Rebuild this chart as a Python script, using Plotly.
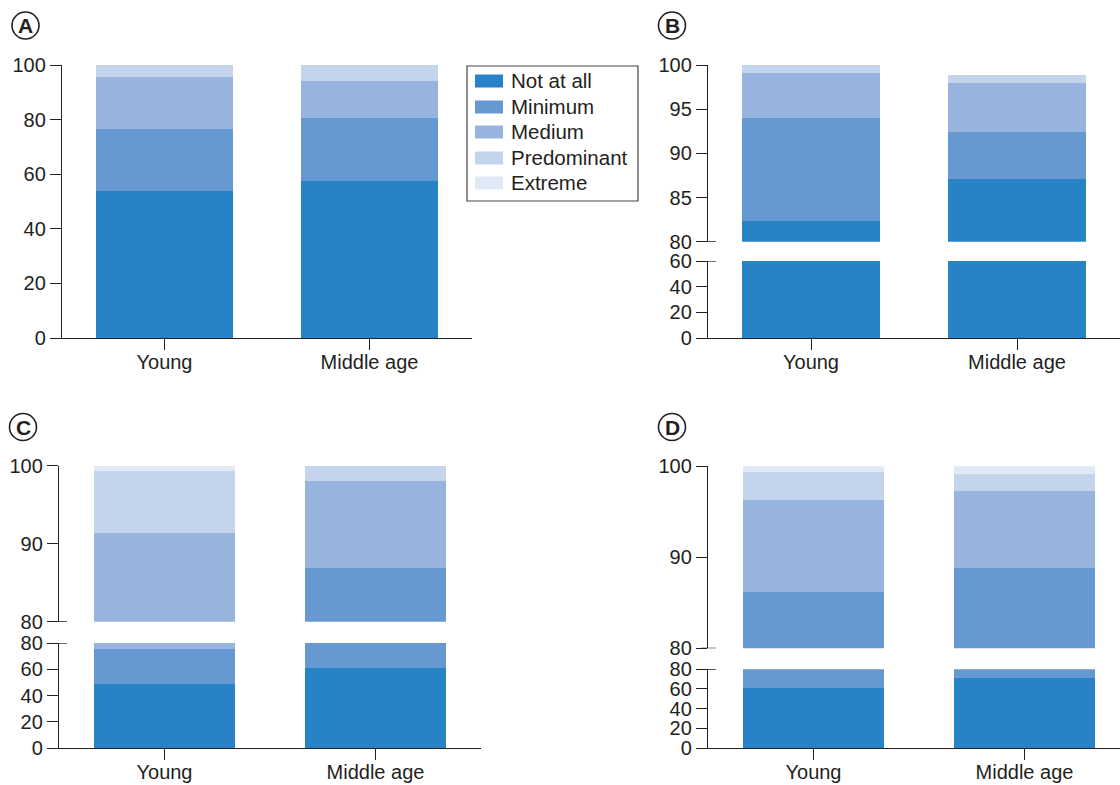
import plotly.graph_objects as go

# ---------------- data ----------------
categories = ["Young", "Middle age"]
series = ["Not at all", "Minimum", "Medium", "Predominant", "Extreme"]
colors = ["#2882C6", "#6699D1", "#96B4DD", "#C5D4ED", "#E1E8F6"]

# values per group, order = series
A_young = [54.0, 22.5, 19.1, 4.4, 0.0]
A_middle = [57.5, 23.1, 13.5, 5.9, 0.0]
B_young = [82.3, 11.7, 5.1, 0.9, 0.0]
B_middle = [87.1, 5.3, 5.6, 0.9, 0.0]
C_young = [49.0, 26.4, 16.0, 7.9, 0.7]
C_middle = [61.0, 25.9, 11.1, 2.0, 0.0]
D_young = [61.0, 25.2, 10.1, 3.1, 0.6]
D_middle = [70.7, 18.1, 8.5, 1.9, 0.8]

panel_letters = ["A", "B", "C", "D"]
A_ticks = [0, 20, 40, 60, 80, 100]
B_low_ticks = [0, 20, 40, 60]
B_up_ticks = [80, 85, 90, 95, 100]
C_low_ticks = [0, 20, 40, 60, 80]
C_up_ticks = [80, 90, 100]
D_low_ticks = [0, 20, 40, 60, 80]
D_up_ticks = [80, 90, 100]

# ---------------- layout helpers ----------------
W, H = 1120, 785
FONT = "Liberation Sans, Arial, Helvetica, sans-serif"
INK = "#231f20"


def px_x(p):
    return p / W


def px_y(p):
    return 1 - p / H


fig = go.Figure()

# (xaxis id, list of yaxis ids, young values, middle values)
panels = [
    ("x", ["y"], A_young, A_middle),
    ("x2", ["y2", "y3"], B_young, B_middle),
    ("x3", ["y4", "y5"], C_young, C_middle),
    ("x4", ["y6", "y7"], D_young, D_middle),
]

for xid, yids, yv, mv in panels:
    for yid in yids:
        for i, name in enumerate(series):
            fig.add_trace(go.Bar(
                x=categories, y=[yv[i], mv[i]], name=name,
                marker=dict(color=colors[i], line=dict(width=0)),
                xaxis=xid, yaxis=yid, showlegend=False,
            ))

axis_common = dict(
    showline=True, linecolor=INK, linewidth=1.3,
    ticks="outside", ticklen=11, tickwidth=1.3, tickcolor=INK,
    showgrid=False, zeroline=False, fixedrange=True, automargin=False,
    tickfont=dict(family=FONT, size=20, color=INK),
)

# x axes: (domain px start, px end, range end, anchor)
xdefs = {
    "xaxis": (62, 472, 1.5, "y"),
    "xaxis2": (708, 1120, 1.5, "y2"),
    "xaxis3": (59, 481, 1.5, "y4"),
    "xaxis4": (708, 1120, 1.4526, "y6"),
}
layout = {}
for k, (a, b, r, anc) in xdefs.items():
    layout[k] = dict(axis_common, domain=[px_x(a), px_x(b)],
                     range=[-0.5, r], anchor=anc, type="category",
                     ticklabelstandoff=-5)

# y axes: (top px, bottom px, range, ticks, anchor)
ydefs = {
    "yaxis": (65, 338, [0, 100], A_ticks, "x"),
    "yaxis2": (261, 338, [0, 60], B_low_ticks, "x2"),
    "yaxis3": (65, 241.7, [80, 100], B_up_ticks, "x2"),
    "yaxis4": (643, 748, [0, 80], C_low_ticks, "x3"),
    "yaxis5": (465.7, 621.7, [80, 100], C_up_ticks, "x3"),
    "yaxis6": (669.3, 748, [0, 80], D_low_ticks, "x4"),
    "yaxis7": (466.3, 648.3, [80, 100], D_up_ticks, "x4"),
}
for k, (t, b, rng, tv, anc) in ydefs.items():
    layout[k] = dict(axis_common, domain=[px_y(b), px_y(t)], range=rng,
                     tickvals=tv, anchor=anc)

shapes = []
annotations = []

# broken-axis marks (short horizontal strokes across the axis)
breaks = [(708, "y3", 80), (708, "y2", 60), (59, "y5", 80), (59, "y4", 80),
          (708, "y7", 80), (708, "y6", 80)]
for xp, yref, yv in breaks:
    shapes.append(dict(type="line", xref="paper", yref=yref,
                       x0=px_x(xp - 7), x1=px_x(xp + 8), y0=yv, y1=yv,
                       line=dict(color=INK, width=1.3)))

# circled panel letters
circles = [(25.5, 25.5), (672, 25.5), (23, 427), (672, 427)]
for (cx, cy), letter in zip(circles, panel_letters):
    r = 13.5
    shapes.append(dict(type="circle", xref="paper", yref="paper",
                       x0=px_x(cx - r), x1=px_x(cx + r),
                       y0=px_y(cy + r), y1=px_y(cy - r),
                       line=dict(color=INK, width=1.6)))
    annotations.append(dict(text="<b>%s</b>" % letter, xref="paper", yref="paper",
                            x=px_x(cx), y=px_y(cy + 0.5), showarrow=False,
                            xanchor="center", yanchor="middle",
                            font=dict(family=FONT, size=21, color=INK)))

# legend box (drawn to match the reference's wide swatches)
LEG_L, LEG_R, LEG_T, LEG_B = 467, 638, 66, 201
shapes.append(dict(type="rect", xref="paper", yref="paper",
                   x0=px_x(LEG_L), x1=px_x(LEG_R), y0=px_y(LEG_B), y1=px_y(LEG_T),
                   line=dict(color="#444", width=1.2), fillcolor="white"))
row_y = [81, 107, 132, 158, 183]
for name, col, ry in zip(series, colors, row_y):
    shapes.append(dict(type="rect", xref="paper", yref="paper",
                       x0=px_x(475), x1=px_x(503),
                       y0=px_y(ry + 6.5), y1=px_y(ry - 6.5),
                       line=dict(width=0), fillcolor=col))
    annotations.append(dict(text=name, xref="paper", yref="paper",
                            x=px_x(509), y=px_y(ry), showarrow=False,
                            xanchor="left", yanchor="middle",
                            font=dict(family=FONT, size=20.5, color=INK)))

fig.update_layout(
    **layout,
    barmode="stack", bargap=0.333,
    width=W, height=H,
    margin=dict(l=0, r=0, t=0, b=0, autoexpand=False),
    paper_bgcolor="white", plot_bgcolor="white",
    shapes=shapes, annotations=annotations,
    font=dict(family=FONT, size=20, color=INK),
    showlegend=False,
)

fig.write_html("out.html", post_script="document.body.style.margin='0';",
               config={"displayModeBar": False})
